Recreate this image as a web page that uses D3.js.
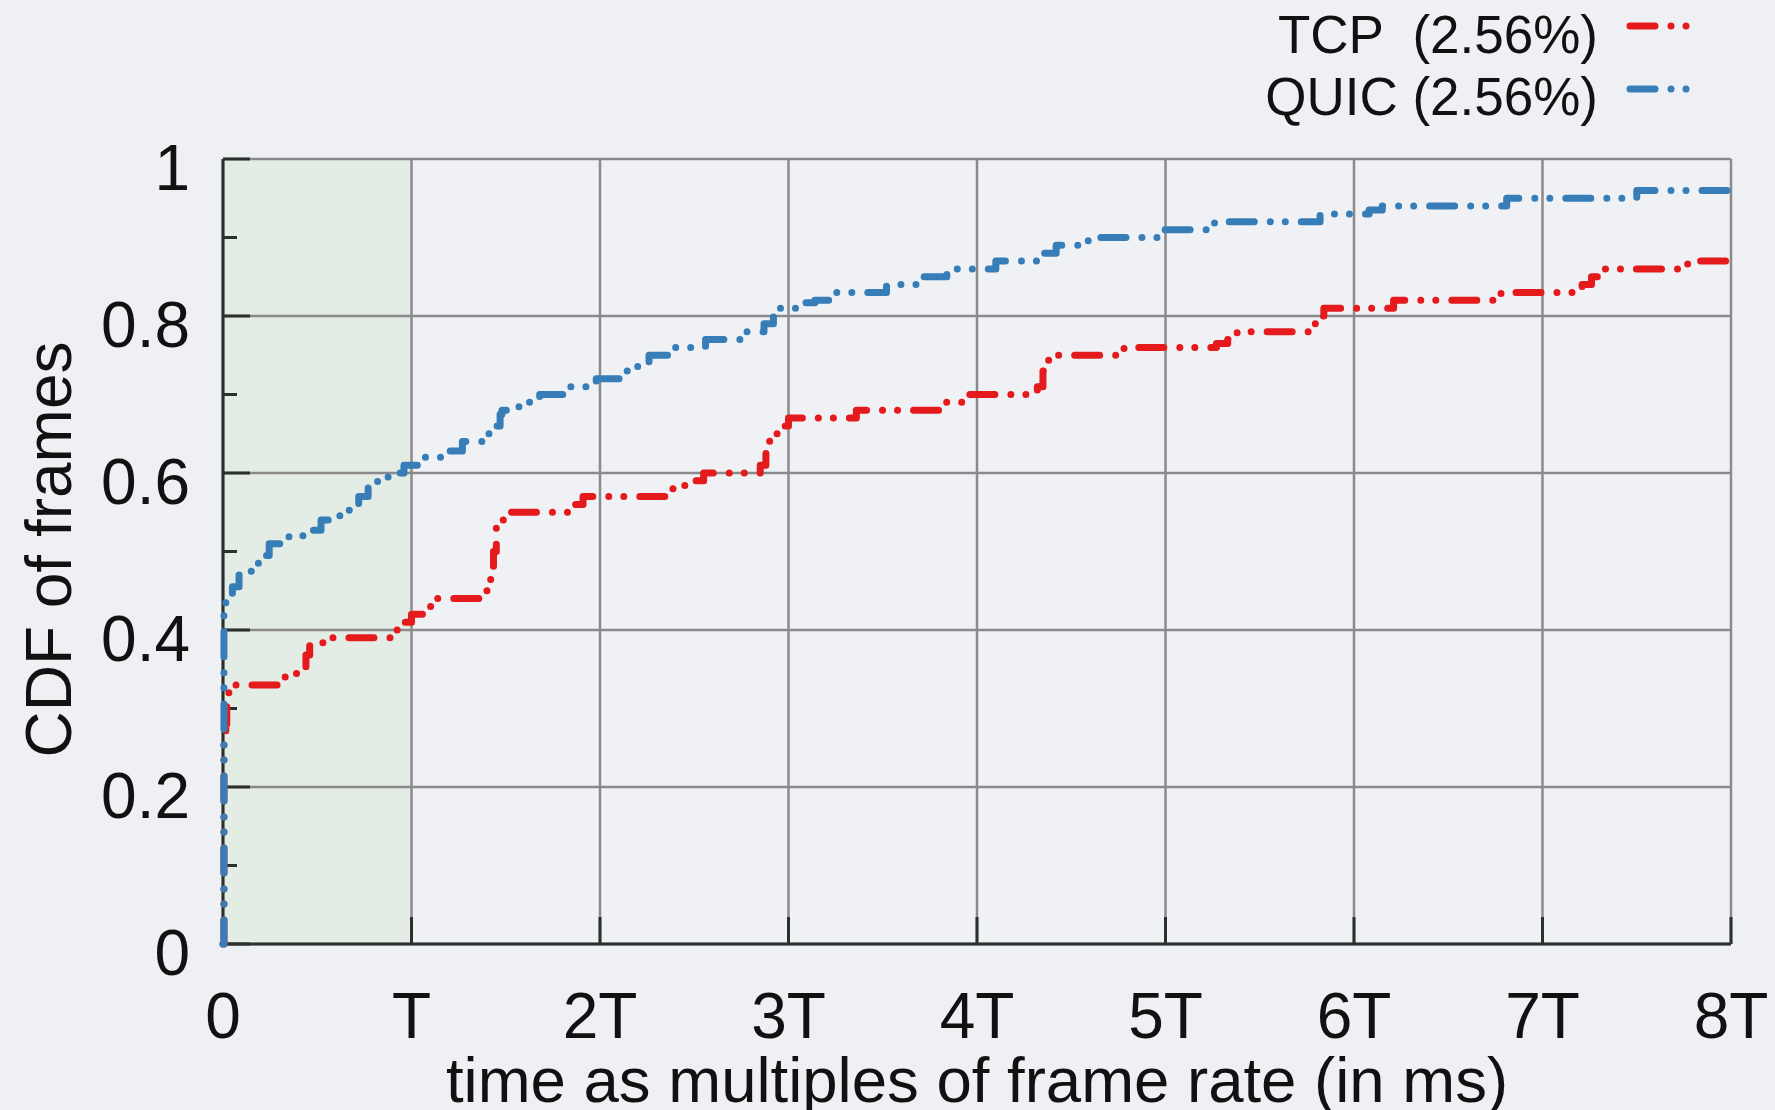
<html>

<head>
  <meta charset="utf-8">
  <title>CDF of frames</title>
  <style>
    html, body {
      width: 100%;
      height: 100%;
      margin: 0;
      padding: 0;
      background: #eef0f4;
      overflow: hidden;
    }
    svg {
      position: absolute;
      left: 0;
      top: 0;
    }
    text {
      font-family: "Liberation Sans", Arial, sans-serif;
      fill: #111;
    }
    .grid line {
      stroke: #8a8a8a;
      stroke-width: 2.5px;
    }
    .series {
      fill: none;
      stroke-width: 7px;
      stroke-linecap: round;
      stroke-linejoin: round;
      stroke-dasharray: 25 16 0.01 15 0.01 16;
    }
  </style>
  <script src="https://d3js.org/d3.v7.min.js" charset="utf-8"></script>
</head>

<body>
</body>
<script>
  // data, x in multiples of T
  var tcpX = [0, 0.005, 0.015, 0.02, 0.03, 0.04, 0.30, 0.39, 0.44, 0.46, 0.53, 0.90, 0.95, 1.0, 1.06, 1.11, 1.38, 1.42, 1.435, 1.45, 1.47, 1.52, 1.87, 1.91, 2.36, 2.45, 2.55, 2.85, 2.88, 2.90, 2.94, 3.0, 3.36, 3.82, 3.92, 4.32, 4.35, 4.38, 4.78, 5.27, 5.33, 5.38, 5.77, 5.80, 5.84, 6.21, 6.78, 7.21, 7.26, 7.30, 7.77, 8.0];
  var tcpY = [0, 0.26, 0.28, 0.31, 0.32, 0.33, 0.34, 0.35, 0.368, 0.38, 0.39, 0.40, 0.41, 0.42, 0.43, 0.44, 0.45, 0.47, 0.50, 0.53, 0.54, 0.55, 0.56, 0.57, 0.58, 0.59, 0.60, 0.61, 0.63, 0.65, 0.66, 0.67, 0.68, 0.69, 0.70, 0.71, 0.73, 0.75, 0.76, 0.765, 0.77, 0.78, 0.79, 0.80, 0.81, 0.82, 0.83, 0.84, 0.85, 0.86, 0.87, 0.87];
  var quicX = [0, 0.005, 0.015, 0.05, 0.085, 0.11, 0.155, 0.2, 0.245, 0.35, 0.45, 0.52, 0.62, 0.67, 0.72, 0.77, 0.82, 0.90, 0.96, 1.05, 1.18, 1.27, 1.40, 1.45, 1.47, 1.48, 1.57, 1.68, 1.82, 1.98, 2.12, 2.20, 2.26, 2.40, 2.56, 2.75, 2.87, 2.92, 2.95, 3.06, 3.14, 3.23, 3.52, 3.68, 3.84, 4.10, 4.35, 4.42, 4.59, 4.98, 5.26, 5.82, 6.08, 6.15, 6.81, 7.50, 8.0];
  var quicY = [0, 0.42, 0.44, 0.455, 0.47, 0.475, 0.485, 0.495, 0.51, 0.52, 0.527, 0.54, 0.55, 0.56, 0.57, 0.585, 0.595, 0.60, 0.61, 0.62, 0.628, 0.64, 0.65, 0.66, 0.675, 0.68, 0.69, 0.70, 0.71, 0.72, 0.73, 0.74, 0.75, 0.76, 0.77, 0.78, 0.79, 0.80, 0.81, 0.817, 0.82, 0.83, 0.84, 0.85, 0.86, 0.87, 0.88, 0.89, 0.90, 0.91, 0.92, 0.93, 0.935, 0.94, 0.95, 0.96, 0.96];

  var seriesNames = ["TCP  (2.56%)", "QUIC (2.56%)"];
  var seriesColors = ["#e41a1c", "#377eb8"];
  var xTicks = [0, 1, 2, 3, 4, 5, 6, 7, 8];
  var xTickLabels = ["0", "T", "2T", "3T", "4T", "5T", "6T", "7T", "8T"];
  var yTicks = [0, 0.2, 0.4, 0.6, 0.8, 1];
  var yMinorTicks = [0.1, 0.3, 0.5, 0.7, 0.9];
  var shadeTo = 1; // green band from 0 to T

  var width = 1775, height = 1110;
  var margin = { left: 223, top: 159, right: 44, bottom: 166 };
  var w = width - margin.left - margin.right,
      h = height - margin.top - margin.bottom;

  var svg = d3.select("body").append("svg")
    .attr("width", width)
    .attr("height", height);

  var x = d3.scaleLinear().domain([0, 8]).range([0, w]);
  var y = d3.scaleLinear().domain([0, 1]).range([h, 0]);

  var g = svg.append("g").attr("transform", "translate(" + margin.left + "," + margin.top + ")");

  // plot background + shaded band
  g.append("rect").attr("width", w).attr("height", h).attr("fill", "#eff1f5");
  g.append("rect")
    .attr("x", x(0)).attr("width", x(shadeTo) - x(0))
    .attr("height", h)
    .attr("fill", "#e3ede6");

  // grid
  var grid = g.append("g").attr("class", "grid");
  grid.selectAll(".gx").data(xTicks).enter().append("line")
    .attr("x1", d => x(d)).attr("x2", d => x(d))
    .attr("y1", 0).attr("y2", h);
  grid.selectAll(".gy").data(yTicks).enter().append("line")
    .attr("x1", 0).attr("x2", w)
    .attr("y1", d => y(d)).attr("y2", d => y(d));

  // left and bottom axis lines, ticks inward
  var axisColor = "#2b302c";
  g.append("line").attr("x1", 0).attr("x2", 0).attr("y1", 0).attr("y2", h)
    .attr("stroke", axisColor).attr("stroke-width", 3);
  g.append("line").attr("x1", 0).attr("x2", w).attr("y1", h).attr("y2", h)
    .attr("stroke", axisColor).attr("stroke-width", 3);

  g.selectAll(".ty").data(yTicks).enter().append("line")
    .attr("x1", 0).attr("x2", 27)
    .attr("y1", d => y(d)).attr("y2", d => y(d))
    .attr("stroke", axisColor).attr("stroke-width", 3);
  g.selectAll(".tym").data(yMinorTicks).enter().append("line")
    .attr("x1", 0).attr("x2", 14)
    .attr("y1", d => y(d)).attr("y2", d => y(d))
    .attr("stroke", axisColor).attr("stroke-width", 3);
  g.selectAll(".tx").data(xTicks).enter().append("line")
    .attr("x1", d => x(d)).attr("x2", d => x(d))
    .attr("y1", h).attr("y2", h - 27)
    .attr("stroke", axisColor).attr("stroke-width", 3);

  // tick labels
  g.selectAll(".ly").data(yTicks).enter().append("text")
    .attr("x", -33)
    .attr("y", d => y(d) + 31)
    .attr("text-anchor", "end")
    .style("font-size", "64px")
    .text(d => d3.format("~g")(d));
  g.selectAll(".lx").data(xTicks).enter().append("text")
    .attr("x", d => x(d))
    .attr("y", h + 94)
    .attr("text-anchor", "middle")
    .style("font-size", "64px")
    .text((d, i) => xTickLabels[i]);

  // axis titles
  g.append("text")
    .attr("x", w / 2).attr("y", h + 158)
    .attr("text-anchor", "middle")
    .style("font-size", "63.5px")
    .text("time as multiples of frame rate (in ms)");
  svg.append("text")
    .attr("transform", "translate(71," + (margin.top + h / 2 - 2) + ") rotate(-90)")
    .attr("text-anchor", "middle")
    .style("font-size", "64px")
    .text("CDF of frames");

  // curves
  var line = d3.line()
    .x(d => x(d[0]))
    .y(d => y(d[1]))
    .curve(d3.curveStepAfter);

  var series = [d3.zip(tcpX, tcpY), d3.zip(quicX, quicY)];
  g.selectAll(".series").data(series).enter().append("path")
    .attr("class", "series")
    .attr("stroke", (d, i) => seriesColors[i])
    .attr("d", line);

  // legend
  var legend = svg.append("g");
  seriesNames.forEach(function (name, i) {
    legend.append("text")
      .attr("x", 1598).attr("y", 53 + i * 62)
      .attr("text-anchor", "end")
      .style("font-size", "53px")
      .style("white-space", "pre")
      .text(name);
    legend.append("line")
      .attr("class", "series")
      .attr("x1", 1630).attr("x2", 1690)
      .attr("y1", 26 + i * 63).attr("y2", 26 + i * 63)
      .attr("stroke", seriesColors[i]);
  });
</script>
</html>
